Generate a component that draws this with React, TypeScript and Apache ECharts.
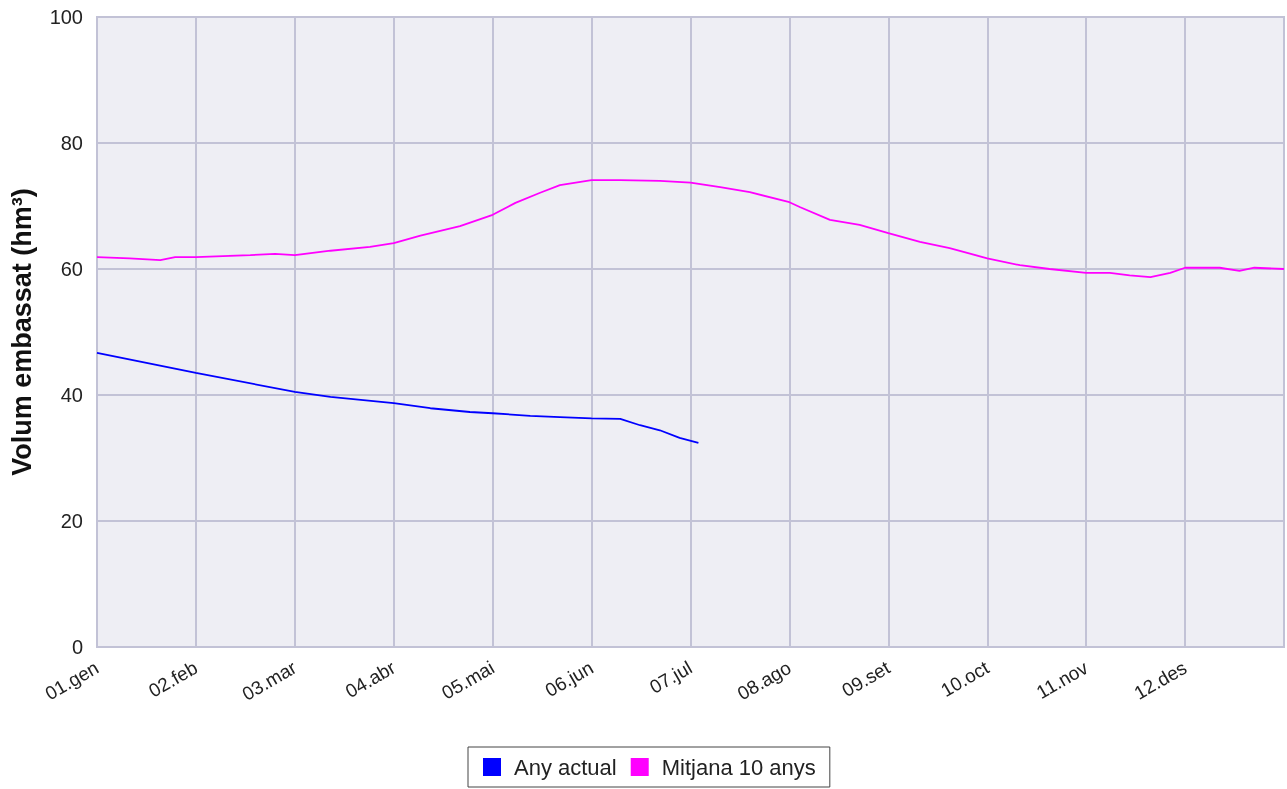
import React, { useEffect, useRef } from "react";
import * as echarts from "echarts";

const monthLabels = ["01.gen", "02.feb", "03.mar", "04.abr", "05.mai", "06.jun", "07.jul", "08.ago", "09.set", "10.oct", "11.nov", "12.des"];

// x positions in months from 01.gen (0 = start of January, 12 = end of December)
const actualX = [0, 1, 2, 2.36, 3, 3.37, 3.77, 4, 4.38, 4.68, 5, 5.29, 5.49, 5.69, 5.89, 6.08];
const actualY = [46.7, 43.5, 40.5, 39.7, 38.7, 37.9, 37.3, 37.1, 36.7, 36.5, 36.3, 36.2, 35.2, 34.4, 33.2, 32.4];

const meanX = [0, 0.33, 0.64, 0.79, 1, 1.55, 1.8, 2, 2.36, 2.76, 3, 3.27, 3.67, 4, 4.23, 4.48, 4.68, 5, 5.29, 5.69, 6, 6.3, 6.6, 7, 7.11, 7.41, 7.71, 8, 8.32, 8.62, 9, 9.33, 9.63, 10, 10.24, 10.44, 10.65, 10.85, 11, 11.35, 11.55, 11.7, 12];
const meanY = [61.9, 61.7, 61.4, 61.9, 61.9, 62.2, 62.4, 62.2, 62.9, 63.5, 64.1, 65.3, 66.8, 68.6, 70.5, 72.1, 73.3, 74.1, 74.1, 74.0, 73.7, 73.0, 72.2, 70.6, 69.8, 67.8, 67.0, 65.7, 64.3, 63.3, 61.7, 60.6, 60.0, 59.4, 59.4, 59.0, 58.7, 59.4, 60.2, 60.2, 59.7, 60.2, 60.0];

const yTicks = { min: 0, max: 100, interval: 20 };

export default function App() {
  const ref = useRef<HTMLDivElement>(null);
  useEffect(() => {
    if (!ref.current) return;
    const chart = echarts.init(ref.current, null, { renderer: "svg" });
    const gridColor = "#c2c2d6";
    chart.setOption({
      animation: false,
      textStyle: { fontFamily: "Liberation Sans, Arial, sans-serif" },
      grid: {
        left: 97,
        right: 3,
        top: 17,
        bottom: 142,
        show: true,
        backgroundColor: "#eeeef4",
        borderColor: gridColor,
        borderWidth: 2,
      },
      xAxis: {
        type: "value",
        min: 0,
        max: 12,
        interval: 1,
        axisLine: { show: false },
        axisTick: { show: false },
        splitLine: { show: true, lineStyle: { color: gridColor, width: 2 } },
        axisLabel: {
          rotate: 30,
          fontSize: 19,
          color: "#222",
          margin: 19,
          formatter: (v: number) => (Number.isInteger(v) && v < 12 ? monthLabels[v] : ""),
        },
      },
      yAxis: {
        type: "value",
        min: yTicks.min,
        max: yTicks.max,
        interval: yTicks.interval,
        name: "Volum embassat (hm³)",
        nameLocation: "middle",
        nameGap: 62,
        nameTextStyle: { fontSize: 27, fontWeight: "bold", color: "#111" },
        axisLine: { show: false },
        axisTick: { show: false },
        splitLine: { show: true, lineStyle: { color: gridColor, width: 2 } },
        axisLabel: { fontSize: 20, color: "#222", margin: 14 },
      },
      legend: {
        left: 468,
        top: 747,
        borderColor: "#444",
        borderWidth: 1,
        borderRadius: 0,
        padding: [9, 14, 9, 15],
        itemWidth: 18,
        itemHeight: 18,
        itemGap: 14,
        icon: "rect",
        textStyle: { fontSize: 22, color: "#222", padding: [0, 0, 0, 8] },
        data: ["Any actual", "Mitjana 10 anys"],
      },
      series: [
        {
          name: "Any actual",
          type: "line",
          showSymbol: false,
          symbol: "none",
          color: "#0000ff",
          lineStyle: { width: 1.8, color: "#0000ff" },
          data: actualX.map((x, i) => [x, actualY[i]]),
        },
        {
          name: "Mitjana 10 anys",
          type: "line",
          showSymbol: false,
          symbol: "none",
          color: "#ff00ff",
          lineStyle: { width: 1.8, color: "#ff00ff" },
          data: meanX.map((x, i) => [x, meanY[i]]),
        },
      ],
    });
    return () => chart.dispose();
  }, []);
  return <div ref={ref} style={{ position: "fixed", left: 0, top: 0, width: 1287, height: 789 }} />;
}
